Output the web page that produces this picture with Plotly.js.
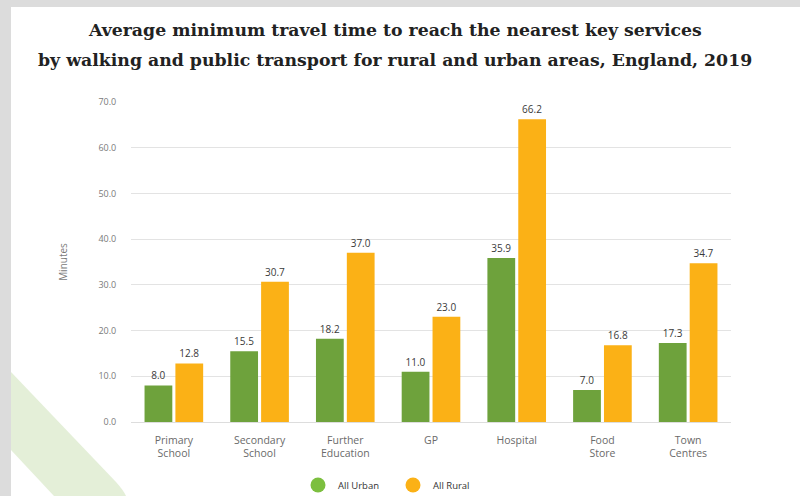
<!DOCTYPE html>
<html>
<head>
<meta charset="utf-8">
<script src="https://cdn.plot.ly/plotly-3.0.1.min.js"></script>
<style>
  html, body { margin:0; padding:0; width:800px; height:496px; overflow:hidden; background:#dcdcdc; }
  #panel { position:absolute; left:11px; top:7px; width:789px; height:489px; background:#ffffff; }
  #deco { position:absolute; left:0; top:0; width:800px; height:496px; }
  #chart { position:absolute; left:0; top:0; width:800px; height:496px; }
</style>
</head>
<body>
<div id="panel"></div>
<svg id="deco" width="800" height="496">
  <path d="M11,372 L116,482 Q124,491 126,496 L54,496 L11,450 Z" fill="#e4efd8"/>
</svg>
<div id="chart"></div>
<script>
const categories = ["Primary<br>School", "Secondary<br>School", "Further<br>Education", "GP", "Hospital", "Food<br>Store", "Town<br>Centres"];
const urbanValues = [8.0, 15.5, 18.2, 11.0, 35.9, 7.0, 17.3];
const ruralValues = [12.8, 30.7, 37.0, 23.0, 66.2, 16.8, 34.7];
const seriesNames = ["All Urban", "All Rural"];
const yTicks = [0, 10, 20, 30, 40, 50, 60, 70];
const titleLines = [
  "Average minimum travel time to reach the nearest key services",
  "by walking and public transport for rural and urban areas, England, 2019"
];

const barColors = ["#6ea23c", "#fbb116"];
const legendColors = ["#7cbf3f", "#fbb116"];
const labelFont = { family: "Open Sans, sans-serif", size: 10, color: "#3a3a3a" };

function barTrace(vals, i) {
  return {
    type: "bar",
    x: categories,
    y: vals,
    name: seriesNames[i],
    marker: { color: barColors[i] },
    text: vals.map(v => v.toFixed(1)),
    textposition: "outside",
    textfont: labelFont,
    cliponaxis: false,
    showlegend: false,
    hoverinfo: "x+y"
  };
}
function legendTrace(i) {
  return {
    type: "scatter",
    mode: "markers",
    x: [null], y: [null],
    name: seriesNames[i],
    marker: { color: legendColors[i], size: 15, symbol: "circle" },
    showlegend: true,
    hoverinfo: "skip"
  };
}

const data = [barTrace(urbanValues, 0), barTrace(ruralValues, 1), legendTrace(0), legendTrace(1)];

const titleFont = { family: "DejaVu Serif, serif", size: 17.3, color: "#222222", weight: "bold" };

const layout = {
  width: 800, height: 496,
  paper_bgcolor: "rgba(0,0,0,0)",
  plot_bgcolor: "rgba(0,0,0,0)",
  margin: { l: 131, r: 69, t: 102, b: 74, autoexpand: false },
  barmode: "group",
  bargap: 0.28,
  bargroupgap: 0.1,
  annotations: [
    { text: titleLines[0], xref: "paper", yref: "paper", x: (395 - 131) / 600, y: (422 - 30) / 320,
      xanchor: "center", yanchor: "middle", showarrow: false, font: titleFont },
    { text: titleLines[1], xref: "paper", yref: "paper", x: (395 - 131) / 600, y: (422 - 60) / 320,
      xanchor: "center", yanchor: "middle", showarrow: false, font: titleFont }
  ],
  xaxis: {
    type: "category",
    tickfont: { family: "Open Sans, sans-serif", size: 10.5, color: "#6a6a6a" },
    ticks: "outside", ticklen: 8, tickcolor: "rgba(0,0,0,0)",
    showline: false, showgrid: false, zeroline: false,
    fixedrange: true
  },
  yaxis: {
    range: [0, 70],
    tickvals: yTicks,
    ticktext: yTicks.map(v => v.toFixed(1)),
    tickfont: { family: "Open Sans, sans-serif", size: 9, color: "#7a7a7a" },
    ticks: "outside", ticklen: 12, tickcolor: "rgba(0,0,0,0)",
    showgrid: true, gridcolor: "#e3e3e3", gridwidth: 1,
    zeroline: true, zerolinecolor: "#dddddd", zerolinewidth: 1,
    showline: false,
    title: { text: "Minutes", font: { family: "Open Sans, sans-serif", size: 10, color: "#7a7a7a" }, standoff: 28 },
    fixedrange: true
  },
  legend: {
    orientation: "h",
    x: (393 - 131) / 600, xanchor: "center",
    y: (422 - 485) / 320, yanchor: "middle",
    entrywidth: 50, entrywidthmode: "pixels",
    font: { family: "Open Sans, sans-serif", size: 9.5, color: "#333333" },
    bgcolor: "rgba(0,0,0,0)"
  },
  showlegend: true
};

Plotly.newPlot("chart", data, layout, { displayModeBar: false, staticPlot: true });
</script>
</body>
</html>
